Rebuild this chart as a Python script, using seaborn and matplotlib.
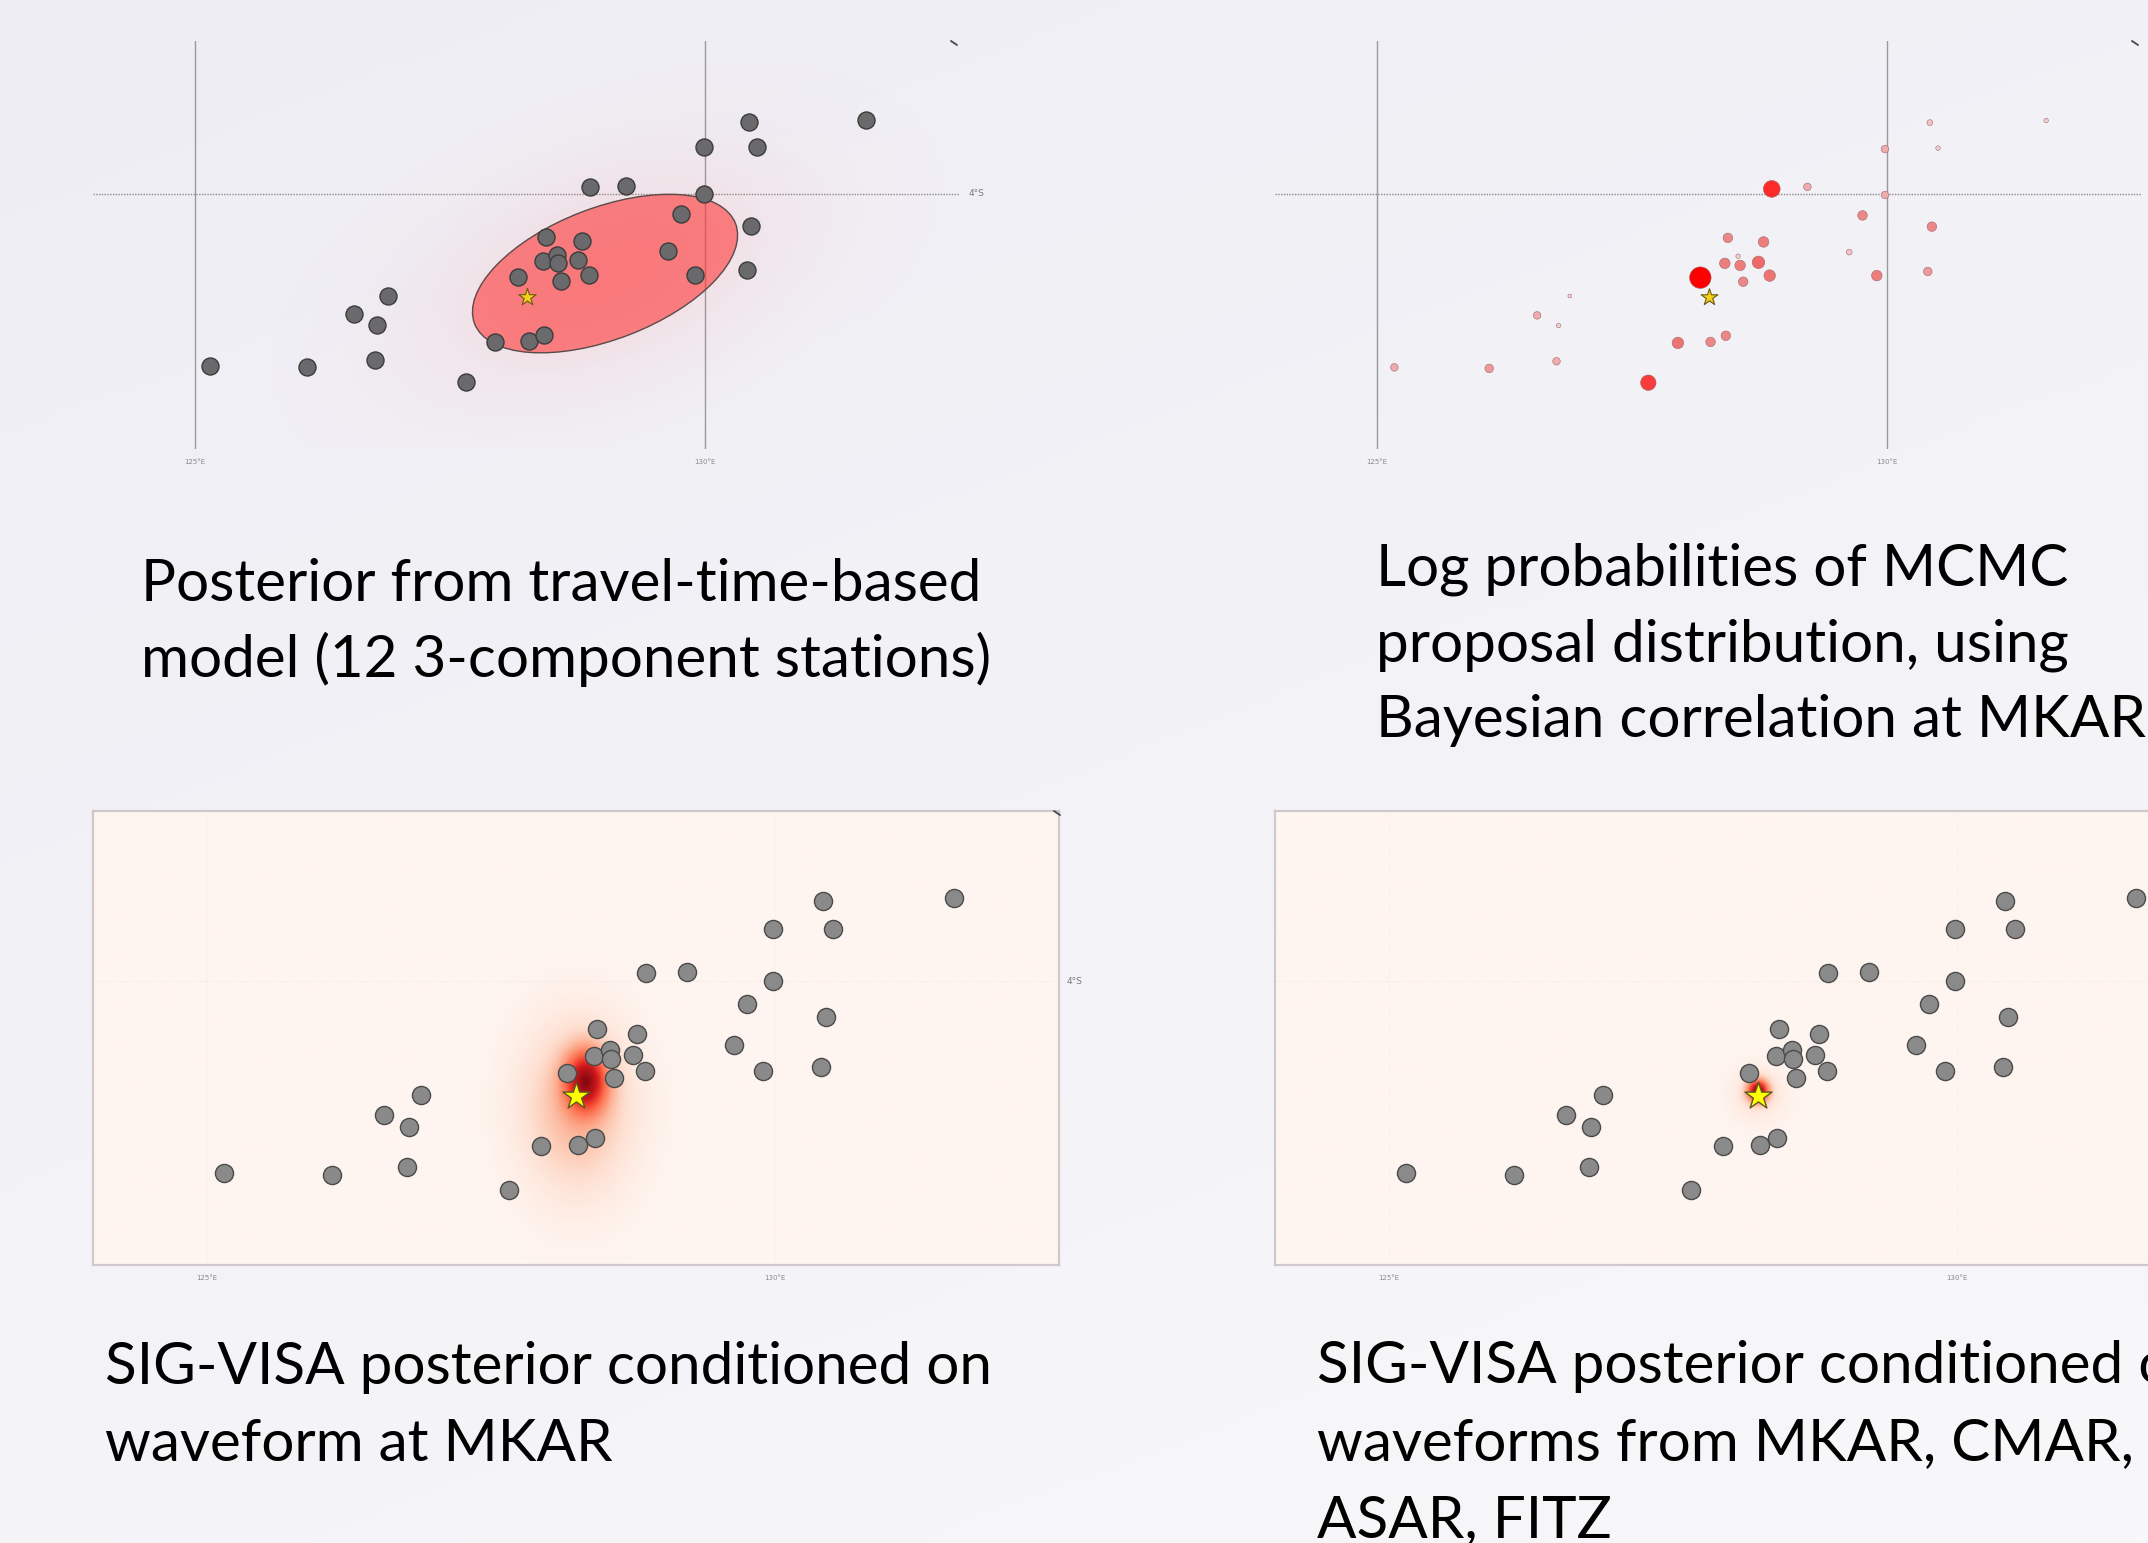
import numpy as np
import matplotlib
matplotlib.use("Agg")
import matplotlib.pyplot as plt
import seaborn as sns
import pandas as pd
from matplotlib.patches import Ellipse
from matplotlib.colors import LinearSegmentedColormap, to_rgb
from matplotlib.lines import Line2D

# ---------------------------------------------------------------- data
# seismic stations (longitude / latitude, degrees)
station_lon = [125.15, 126.10, 126.56, 126.78, 126.89, 126.76, 127.66, 127.94,
               128.27, 128.42, 128.17, 128.44, 128.41, 128.55, 128.56, 128.59,
               128.79, 128.75, 128.86, 128.87, 129.23, 129.64, 129.76, 129.90,
               129.99, 129.99, 130.43, 130.51, 130.45, 130.41, 131.58]
station_lat = [-5.69, -5.70, -5.18, -5.28, -5.00, -5.63, -5.84, -5.45,
               -5.44, -5.38, -4.81, -4.42, -4.66, -4.60, -4.68, -4.85,
               -4.46, -4.65, -4.79, -3.93, -3.92, -4.56, -4.20, -4.79,
               -3.54, -4.00, -3.29, -3.54, -4.31, -4.75, -3.27]

# true event location
event_lon = 128.25
event_lat = -5.01

# travel-time posterior: mean and 1-sigma ellipse
tt_mean_lon = 129.02
tt_mean_lat = -4.78
tt_width = 2.74
tt_height = 1.29
tt_angle = 21.0

# MCMC proposal candidates and their log probabilities
proposal_lon = [128.87, 129.22, 128.17, 127.66, 127.95, 128.27, 128.42, 128.44,
                128.79, 128.41, 128.56, 128.74, 128.85, 128.59, 128.54, 129.76,
                129.98, 129.98, 130.42, 130.50, 130.44, 130.40, 129.90, 129.63,
                131.56, 126.57, 126.78, 126.89, 126.76, 126.10, 125.17]
proposal_lat = [-3.95, -3.93, -4.82, -5.85, -5.46, -5.45, -5.39, -4.43,
                -4.47, -4.68, -4.70, -4.67, -4.80, -4.86, -4.61, -4.21,
                -3.56, -4.01, -3.30, -3.55, -4.32, -4.76, -4.80, -4.57,
                -3.28, -5.19, -5.29, -5.00, -5.64, -5.71, -5.70]
proposal_logp = [-12.0, -27.1, 0.0, -15.0, -22.1, -24.8, -24.8, -24.8,
                 -23.5, -23.5, -23.5, -20.5, -22.1, -24.8, -29.6, -24.8,
                 -27.1, -27.1, -28.7, -29.6, -24.8, -26.0, -23.5, -28.7,
                 -29.6, -27.1, -29.6, -30.0, -27.1, -26.0, -27.1]

# SIG-VISA posterior, MKAR only: gaussian components
mkar_lon = [128.34, 128.26]
mkar_lat = [-4.88, -5.12]
mkar_sd_lon = [0.13, 0.34]
mkar_sd_lat = [0.19, 0.52]
mkar_weight = [1.0, 0.38]

# SIG-VISA posterior, four stations
multi_lon = [128.25, 128.25]
multi_lat = [-4.97, -5.00]
multi_sd_lon = [0.065, 0.17]
multi_sd_lat = [0.070, 0.17]
multi_weight = [1.0, 0.12]

tick_lons = [125, 130]
tick_lon_labels = ["125°E", "130°E"]
grid_lat = -4
grid_lat_label = "4°S"

captions = [
    (["Posterior from travel-time-based", "model (12 3-component stations)"], 141, [601, 677]),
    (["Log probabilities of MCMC", "proposal distribution, using", "Bayesian correlation at MKAR"], 1376, [585, 661, 737]),
    (["SIG-VISA posterior conditioned on", "waveform at MKAR"], 105, [1384, 1461]),
    (["SIG-VISA posterior conditioned on", "waveforms from MKAR, CMAR,", "ASAR, FITZ"], 1317, [1383, 1460, 1537]),
]

# ---------------------------------------------------------------- layout
W, H = 2148, 1543
LON0, LON1 = 124.0, 132.5
LAT0, LAT1 = -6.5, -2.5

sns.set_style("white")
plt.rcParams["font.family"] = ["Lato", "DejaVu Sans"]

fig = plt.figure(figsize=(W / 100, H / 100), dpi=100)

# slide background
bg = fig.add_axes([0, 0, 1, 1], zorder=-10)
gy, gx = np.mgrid[0:1:200j, 0:1:200j]
t = 0.65 * gy + 0.35 * gx
c_top = np.array(to_rgb("#eeedf4"))
c_bot = np.array(to_rgb("#f8f8fa"))
bg.imshow(c_top[None, None, :] * (1 - t[..., None]) + c_bot[None, None, :] * t[..., None],
          extent=(0, 1, 0, 1), aspect="auto", origin="upper")
bg.set_axis_off()


def panel(left_px, top_px, ppd):
    w = (LON1 - LON0) * ppd
    h = (LAT1 - LAT0) * ppd
    ax = fig.add_axes([left_px / W, 1 - (top_px + h) / H, w / W, h / H])
    ax.set_xlim(LON0, LON1)
    ax.set_ylim(LAT0, LAT1)
    ax.set_xticks([])
    ax.set_yticks([])
    return ax


def lon_labels(ax, show_lat=True):
    for lon, lab in zip(tick_lons, tick_lon_labels):
        ax.annotate(lab, xy=(lon, 0), xycoords=("data", "axes fraction"),
                    xytext=(0, -9), textcoords="offset points", ha="center", va="center",
                    fontsize=5, color="#8a8a8a", family="DejaVu Sans", annotation_clip=False)
    if show_lat:
        ax.annotate(grid_lat_label, xy=(1, grid_lat), xycoords=("axes fraction", "data"),
                    xytext=(6, 0), textcoords="offset points", ha="left", va="center",
                    fontsize=6.5, color="#7a7a7a", family="DejaVu Sans", annotation_clip=False)


lon_grid = np.linspace(LON0, LON1, 850)
lat_grid = np.linspace(LAT0, LAT1, 400)
LG, AG = np.meshgrid(lon_grid, lat_grid)


def mixture(lons, lats, sdx, sdy, wts):
    f = np.zeros_like(LG)
    for x0, y0, sx, sy, wt in zip(lons, lats, sdx, sdy, wts):
        f += wt * np.exp(-0.5 * (((LG - x0) / sx) ** 2 + ((AG - y0) / sy) ** 2))
    return f


stations = pd.DataFrame({"lon": station_lon, "lat": station_lat})
event = pd.DataFrame({"lon": [event_lon], "lat": [event_lat]})

# ---------------------------------------------------------------- panel 1: travel-time posterior
ax1 = panel(93, 41, 102.0)
for s in ax1.spines.values():
    s.set_visible(False)
ax1.patch.set_alpha(0)
for lon in tick_lons:
    ax1.axvline(lon, color="#9a9a9a", lw=1.0, zorder=1)
ax1.axhline(grid_lat, color="#8a8a8a", lw=1.0, ls=(0, (1, 1)), zorder=1)

# haze of posterior samples around the mean
th = np.deg2rad(tt_angle)
dx, dy = LG - tt_mean_lon, AG - tt_mean_lat
u = dx * np.cos(th) + dy * np.sin(th)
v = -dx * np.sin(th) + dy * np.cos(th)
haze = np.exp(-0.5 * ((u / (tt_width / 2 * 0.95)) ** 2 + (v / (tt_height / 2 * 1.05)) ** 2))
rgba = np.zeros(LG.shape + (4,))
rgba[..., 0] = 1.0
rgba[..., 1] = 0.3
rgba[..., 2] = 0.3
rgba[..., 3] = 0.13 * haze
ax1.imshow(rgba, extent=(LON0, LON1, LAT0, LAT1), origin="lower", aspect="auto", zorder=2)

ax1.add_patch(Ellipse((tt_mean_lon, tt_mean_lat), tt_width, tt_height, angle=tt_angle,
                      facecolor=(1.0, 0.2, 0.2, 0.58), edgecolor="#5a4a4a", lw=1.0, zorder=3))
sns.scatterplot(data=stations, x="lon", y="lat", ax=ax1, s=150, color="#6a6a6c",
                edgecolor="#3c3c3c", linewidth=1.0, zorder=4, legend=False)
sns.scatterplot(data=event, x="lon", y="lat", ax=ax1, marker="*", s=170, color="#f2d21a",
                edgecolor="#6a5a10", linewidth=0.8, zorder=5, legend=False)
ax1.set_xlabel("")
ax1.set_ylabel("")
lon_labels(ax1)

# ---------------------------------------------------------------- panel 2: MCMC proposal log probabilities
ax2 = panel(1275, 41, 102.0)
for s in ax2.spines.values():
    s.set_visible(False)
ax2.patch.set_alpha(0)
for lon in tick_lons:
    ax2.axvline(lon, color="#9a9a9a", lw=1.0, zorder=1)
ax2.axhline(grid_lat, color="#8a8a8a", lw=1.0, ls=(0, (1, 1)), zorder=1)

prop = pd.DataFrame({"lon": proposal_lon, "lat": proposal_lat, "logp": proposal_logp})
prop = prop.sort_values("logp")
logp_cmap = LinearSegmentedColormap.from_list(
    "logp", [(0.0, "#f2d6da"), (0.05, "#f0c2c6"), (0.1, "#eea7aa"), (0.18, "#ec8484"),
             (0.3, "#ef6c6c"), (0.5, "#f83c3c"), (0.6, "#ff2b2b"), (1.0, "#ff0000")])
sns.scatterplot(data=prop, x="lon", y="lat", hue="logp", size="logp", ax=ax2,
                palette=logp_cmap, hue_norm=(-30, 0), sizes=(7, 240), size_norm=(-30, 0),
                edgecolor="#a06a6a", linewidth=0.4, zorder=4, legend=False)
sns.scatterplot(data=event, x="lon", y="lat", ax=ax2, marker="*", s=160, color="#f2d21a",
                edgecolor="#6a5a10", linewidth=0.8, zorder=5, legend=False)
ax2.set_xlabel("")
ax2.set_ylabel("")
lon_labels(ax2, show_lat=False)


# ---------------------------------------------------------------- panels 3 & 4: SIG-VISA posteriors
def sigvisa_panel(left_px, field, show_lat):
    ax = panel(left_px, 811, 113.6)
    reds = plt.get_cmap("Reds")
    ax.set_facecolor(reds(0.0))
    for s in ax.spines.values():
        s.set_color("#cfc9cc")
        s.set_linewidth(1.6)
    ax.imshow(field, extent=(LON0, LON1, LAT0, LAT1), origin="lower", aspect="auto",
              cmap=reds, vmin=0, vmax=field.max() / 0.93, zorder=1)
    for lon in tick_lons:
        ax.axvline(lon, color="#b0a8a8", lw=0.8, ls=(0, (1, 2)), alpha=0.15, zorder=2)
    ax.axhline(grid_lat, color="#b0a8a8", lw=0.8, ls=(0, (1, 2)), alpha=0.2, zorder=2)
    sns.scatterplot(data=stations, x="lon", y="lat", ax=ax, s=170, color="#8a8a8a",
                    edgecolor="#4a4a4a", linewidth=1.0, zorder=4, legend=False)
    sns.scatterplot(data=event, x="lon", y="lat", ax=ax, marker="*", s=420, color="#ffff00",
                    edgecolor="#5a5a20", linewidth=1.0, zorder=5, legend=False)
    ax.set_xlabel("")
    ax.set_ylabel("")
    lon_labels(ax, show_lat=show_lat)
    return ax


ax3 = sigvisa_panel(93, mixture(mkar_lon, mkar_lat, mkar_sd_lon, mkar_sd_lat, mkar_weight), True)
ax4 = sigvisa_panel(1275, mixture(multi_lon, multi_lat, multi_sd_lon, multi_sd_lat, multi_weight), False)

# small corner marks
for x0, y0 in [(951, 41), (2132, 41), (1054, 811)]:
    fig.add_artist(Line2D([x0 / W, (x0 + 6) / W], [1 - y0 / H, 1 - (y0 + 4) / H],
                          color="#505050", lw=1.4, transform=fig.transFigure))

# ---------------------------------------------------------------- captions
for lines, x_px, baselines in captions:
    for line, yb in zip(lines, baselines):
        fig.text(x_px / W, 1 - yb / H, line, ha="left", va="baseline",
                 fontsize=42, color="black")

fig.savefig("out.png", dpi=100)
